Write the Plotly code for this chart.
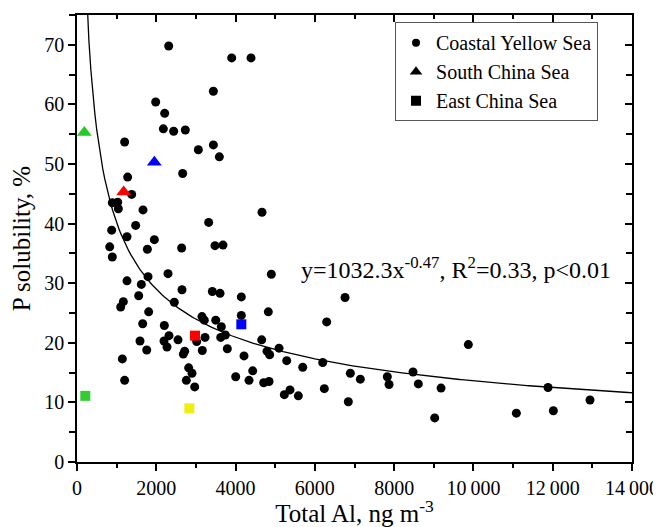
import plotly.graph_objects as go

# ---------------- data ----------------
coastal_x = [2313, 3902, 4390, 3440, 1985, 2212, 2178, 2438, 2733, 1202,
             3061, 3440, 3591, 2665, 1278, 1379, 891, 1026, 1043, 1665,
             4667, 3322, 875, 1480, 1261, 1951, 825, 1775, 2640, 3481,
             3683, 891, 2296, 1261, 1623, 1791, 2649, 3414, 3608, 4145,
             4902, 1556, 2455, 1169, 1102, 1808, 4145, 4826, 3153, 3212,
             3499, 3641, 3742, 3625, 1657, 2203, 2321, 2548, 2195, 2270,
             1589, 1759, 3229, 3019, 3161, 2716, 2682, 3792, 4659, 4793,
             4860, 4213, 1144, 2817, 2901, 2758, 2969, 1202, 4003, 4432,
             4339, 4709, 4844, 6761, 6299, 5096, 5290, 5694, 6198, 5230,
             5373, 5583, 6239, 6844, 6895, 7147, 7828, 7871, 8476, 8610,
             9872, 9183, 9023, 11083, 11882, 12016, 12941]
coastal_y = [69.8, 67.8, 67.8, 62.2, 60.4, 58.5, 55.9, 55.5, 55.7, 53.7,
             52.4, 53.2, 51.2, 48.4, 47.8, 44.9, 43.5, 43.6, 42.5, 42.3,
             41.9, 40.2, 38.9, 39.7, 37.8, 37.3, 36.1, 35.7, 35.9, 36.3,
             36.4, 34.4, 31.6, 30.4, 29.8, 31.1, 28.9, 28.6, 28.3, 27.7,
             31.5, 27.9, 26.8, 26.9, 26.0, 25.2, 24.6, 25.2, 24.4, 23.8,
             23.8, 22.7, 21.3, 20.9, 23.2, 22.9, 21.2, 20.5, 20.3, 19.3,
             20.3, 18.8, 20.9, 20.2, 18.7, 18.6, 18.1, 19.0, 20.5, 18.6,
             18.0, 17.8, 17.3, 15.8, 14.9, 13.7, 12.6, 13.7, 14.3, 15.3,
             13.7, 13.3, 13.5, 27.6, 23.5, 19.1, 17.0, 15.9, 16.7, 11.3,
             12.1, 11.1, 12.3, 10.1, 14.9, 13.9, 14.3, 13.0, 15.1, 13.1,
             19.7, 12.4, 7.4, 8.2, 12.5, 8.6, 10.4]

scs_x = [185, 1951, 1177]
scs_y = [55.3, 50.3, 45.3]
scs_colors = ["#22cc22", "#0000ff", "#ff0000"]

ecs_x = [2977, 4145, 210, 2834]
ecs_y = [21.2, 23.1, 11.1, 9.0]
ecs_colors = ["#ff0000", "#0000ff", "#33cc33", "#eeee11"]

# power-law fit y = a * x^b
fit_a = 1032.3
fit_b = -0.47
fit_x = [200 + i * 50 for i in range(0, 277)]
fit_y = [fit_a * xv ** fit_b for xv in fit_x]

x_tickvals = [0, 2000, 4000, 6000, 8000, 10000, 12000, 14000]
x_ticktext = ["0", "2000", "4000", "6000", "8000",
              "10\u2009000", "12\u2009000", "14\u2009000"]
y_tickvals = [0, 10, 20, 30, 40, 50, 60, 70]

FONT = "Liberation Serif"

fig = go.Figure()

fig.add_trace(go.Scatter(x=fit_x, y=fit_y, mode="lines",
                         line=dict(color="black", width=1.3),
                         showlegend=False, hoverinfo="skip"))

fig.add_trace(go.Scatter(x=coastal_x, y=coastal_y, mode="markers",
                         name="Coastal Yellow Sea",
                         marker=dict(symbol="circle", size=9, color="black"),
                         showlegend=False))
fig.add_trace(go.Scatter(x=scs_x, y=scs_y, mode="markers",
                         name="South China Sea",
                         marker=dict(symbol="triangle-up", size=13, color=scs_colors),
                         showlegend=False))
fig.add_trace(go.Scatter(x=ecs_x, y=ecs_y, mode="markers",
                         name="East China Sea",
                         marker=dict(symbol="square", size=10, color=ecs_colors),
                         showlegend=False))

# legend entries (black symbols)
fig.add_trace(go.Scatter(x=[None], y=[None], mode="markers", name="Coastal Yellow Sea",
                         marker=dict(symbol="circle", size=8, color="black")))
fig.add_trace(go.Scatter(x=[None], y=[None], mode="markers", name="South China Sea",
                         marker=dict(symbol="triangle-up", size=11, color="black")))
fig.add_trace(go.Scatter(x=[None], y=[None], mode="markers", name="East China Sea",
                         marker=dict(symbol="square", size=10, color="black")))

# helper trace for mirrored axes
fig.add_trace(go.Scatter(x=[None], y=[None], xaxis="x2", yaxis="y2",
                         showlegend=False, hoverinfo="skip"))

axis_common = dict(showline=True, linecolor="black", linewidth=1.5,
                   showgrid=False, zeroline=False, ticklen=7, tickwidth=1.5,
                   tickcolor="black", automargin=False)

fig.update_layout(
    template="none",
    width=653, height=519,
    margin=dict(l=69, r=29, t=7, b=65, autoexpand=False),
    paper_bgcolor="white", plot_bgcolor="white",
    font=dict(family=FONT, color="black"),
    xaxis=dict(range=[0, 14000], ticks="outside", tickvals=x_tickvals,
               ticktext=x_ticktext, tickfont=dict(size=20, family=FONT),
               minor=dict(dtick=1000, tick0=0, ticks="outside", ticklen=4,
                          tickwidth=1.5, tickcolor="black"),
               title=dict(text="Total Al, ng m<sup>-3</sup>",
                          font=dict(size=25, family=FONT), standoff=2),
               **axis_common),
    yaxis=dict(range=[0, 75], ticks="outside", tickvals=y_tickvals,
               tickfont=dict(size=20, family=FONT),
               minor=dict(dtick=5, tick0=0, ticks="outside", ticklen=6,
                          tickwidth=1.5, tickcolor="black"),
               title=dict(text="P solubility, %",
                          font=dict(size=25, family=FONT), standoff=8),
               **axis_common),
    xaxis2=dict(range=[0, 14000], overlaying="x", side="top", anchor="y2",
                ticks="inside", tickvals=x_tickvals, showticklabels=False,
                minor=dict(dtick=1000, tick0=0, ticks="inside", ticklen=4,
                           tickwidth=1.5, tickcolor="black"),
                **axis_common),
    yaxis2=dict(range=[0, 75], overlaying="y", side="right", anchor="x2",
                ticks="inside", tickvals=y_tickvals, showticklabels=False,
                minor=dict(dtick=5, tick0=0, ticks="inside", ticklen=6,
                           tickwidth=1.5, tickcolor="black"),
                **axis_common),
    legend=dict(x=0.573, y=0.984, xanchor="left", yanchor="top",
                bordercolor="#555555", borderwidth=1, bgcolor="white",
                font=dict(size=20, family=FONT)),
    annotations=[dict(x=9560, y=32.5, xref="x", yref="y",
                      text="y=1032.3x<sup>-0.47</sup>, R<sup>2</sup>=0.33, p<0.01",
                      showarrow=False, xanchor="center", yanchor="middle",
                      font=dict(size=24, family=FONT))],
)

fig.write_html("out.html")
